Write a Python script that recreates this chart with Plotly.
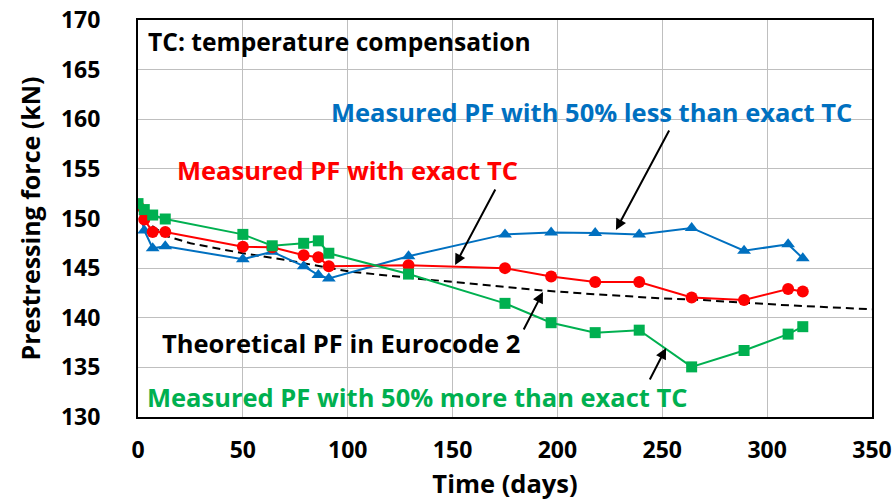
import plotly.graph_objects as go

# ---- data ----
days = [0, 3, 7, 13, 50, 64, 79, 86, 91, 129, 175, 197, 218, 239, 264, 289, 310, 317]
pf_exact = [151.3, 149.9, 148.65, 148.65, 147.15, 147.1, 146.3, 146.1, 145.2, 145.3, 145.0, 144.15, 143.6, 143.6, 142.05, 141.8, 142.9, 142.65]
pf_less = [151.4, 148.8, 147.0, 147.2, 145.9, 146.65, 145.2, 144.3, 143.95, 146.2, 148.4, 148.6, 148.55, 148.4, 149.05, 146.75, 147.4, 146.0]
pf_more = [151.5, 150.9, 150.35, 149.95, 148.4, 147.25, 147.5, 147.75, 146.5, 144.4, 141.45, 139.5, 138.5, 138.75, 135.05, 136.7, 138.35, 139.1]
theo_days = [0, 3, 7, 14, 25, 50, 71, 101, 133, 173, 193, 212, 250, 268, 306, 350]
pf_theo = [151.4, 150.0, 149.2, 148.2, 147.5, 146.5, 145.8, 144.65, 143.95, 143.1, 142.75, 142.45, 141.95, 141.8, 141.3, 140.85]

x_ticks = [0, 50, 100, 150, 200, 250, 300, 350]
y_ticks = [130, 135, 140, 145, 150, 155, 160, 165, 170]

BLUE = "#0070C0"
RED = "#FF0000"
GREEN = "#00B050"
FONT = "Open Sans"

fig = go.Figure()
fig.add_trace(go.Scatter(x=theo_days, y=pf_theo, mode="lines",
                         line=dict(color="black", width=2, dash="8px,5px"),
                         name="Theoretical", showlegend=False))
fig.add_trace(go.Scatter(x=days, y=pf_less, mode="lines+markers",
                         line=dict(color=BLUE, width=2),
                         marker=dict(symbol="triangle-up", size=12, color=BLUE),
                         showlegend=False))
fig.add_trace(go.Scatter(x=days, y=pf_exact, mode="lines+markers",
                         line=dict(color=RED, width=2),
                         marker=dict(symbol="circle", size=12, color=RED),
                         showlegend=False))
fig.add_trace(go.Scatter(x=days, y=pf_more, mode="lines+markers",
                         line=dict(color=GREEN, width=2),
                         marker=dict(symbol="square", size=11, color=GREEN),
                         showlegend=False))

def label(text, x, y, color, size, anchor="center"):
    fig.add_annotation(x=x, y=y, xref="x", yref="y", text=f"<b>{text}</b>",
                       showarrow=False, xanchor=anchor, yanchor="middle",
                       font=dict(family=FONT, size=size, color=color))

label("TC: temperature compensation", 95.9, 167.8, "black", 24.6)
label("Measured PF with 50% less than exact TC", 341.5, 160.75, BLUE, 25.5, anchor="right")
label("Measured PF with exact TC", 99.7, 154.9, RED, 25.5)
label("Theoretical PF in Eurocode 2", 96.8, 137.45, "black", 25.5)
label("Measured PF with 50% more than exact TC", 133.5, 132.0, GREEN, 25.5)

def arrow(x, y, ax, ay):
    fig.add_annotation(x=x, y=y, xref="x", yref="y", text="", showarrow=True,
                       ax=ax, ay=ay, arrowhead=2, arrowsize=1.1, arrowwidth=2,
                       arrowcolor="black", standoff=0)

arrow(151.2, 145.31, 41, -77)
arrow(227.9, 148.84, 54, -101)
arrow(193.1, 142.59, -20, 39)
arrow(251.8, 136.95, -17, 33)

fig.update_layout(
    width=894, height=503,
    margin=dict(l=138, r=22, t=20, b=86),
    paper_bgcolor="white", plot_bgcolor="white",
    font=dict(family=FONT, color="black"),
)
fig.update_xaxes(range=[0, 350], tickvals=x_ticks, ticktext=[str(v) for v in x_ticks],
                 showgrid=True, gridcolor="#BFBFBF", gridwidth=1,
                 showline=True, linecolor="black", linewidth=2, mirror=True,
                 zeroline=False, ticks="", ticklabelstandoff=11, automargin=False,
                 tickfont=dict(family=FONT, size=23, color="black", weight="bold"),
                 title=dict(text="<b>Time (days)</b>", font=dict(family=FONT, size=25.5), standoff=12))
fig.update_yaxes(range=[130, 170], tickvals=y_ticks, ticktext=[str(v) for v in y_ticks],
                 showgrid=True, gridcolor="#BFBFBF", gridwidth=1,
                 showline=True, linecolor="black", linewidth=2, mirror=True,
                 zeroline=False, ticks="", ticklabelstandoff=31, automargin=False,
                 tickfont=dict(family=FONT, size=23, color="black", weight="bold"),
                 title=dict(text="<b>Prestressing force (kN)</b>", font=dict(family=FONT, size=25), standoff=13))

fig.write_html("out.html")
